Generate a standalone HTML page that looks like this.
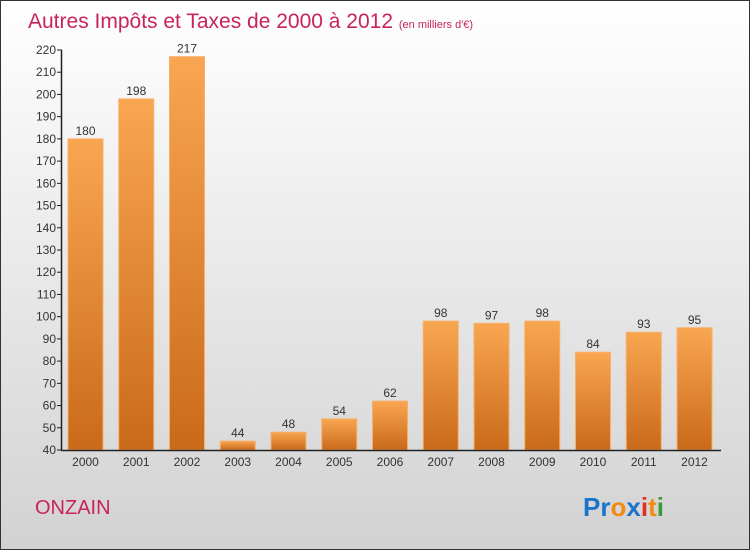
<!DOCTYPE html>
<html><head><meta charset="utf-8"><style>
body{margin:0}
svg{display:block;font-family:"Liberation Sans",sans-serif}
</style></head><body>
<svg id="c" width="750" height="550" xmlns="http://www.w3.org/2000/svg">
<defs>
<linearGradient id="bg" x1="0" y1="0" x2="0" y2="1"><stop offset="0" stop-color="#ffffff"/><stop offset="1" stop-color="#d2d2d2"/></linearGradient>
<linearGradient id="bar" x1="0" y1="0" x2="0" y2="1"><stop offset="0" stop-color="#f9a651"/><stop offset="1" stop-color="#c96a1a"/></linearGradient>
</defs>
<rect x="0.5" y="0.5" width="749" height="549" fill="url(#bg)" stroke="#333"/>
<text x="28" y="28" font-size="21" fill="#c8245a">Autres Impôts et Taxes de 2000 à 2012 <tspan font-size="11">(en milliers d'€)</tspan></text>
<g id="plot"></g>
<text x="35" y="514" font-size="20" fill="#c8245a">ONZAIN</text>
<text x="583" y="516" font-size="26" font-weight="bold"><tspan fill="#1a74c9">Pr</tspan><tspan fill="#f08a10">o</tspan><tspan fill="#1a74c9">x</tspan><tspan fill="#e03020">i</tspan><tspan fill="#f08a10">t</tspan><tspan fill="#3a9a3a">i</tspan></text>
</svg>
<script>
const categories=["2000","2001","2002","2003","2004","2005","2006","2007","2008","2009","2010","2011","2012"];
const values=[180,198,217,44,48,54,62,98,97,98,84,93,95];
const yTicks=[40,50,60,70,80,90,100,110,120,130,140,150,160,170,180,190,200,210,220];
const NS="http://www.w3.org/2000/svg";
const g=document.getElementById("plot");
const y0=450,yMin=40,yMax=220,yTop=50;
function y(v){return y0-(v-yMin)*(y0-yTop)/(yMax-yMin);}
function x(i){return 68+i*50.75;}
const bw=35;
function mk(t,a,txt){const e=document.createElementNS(NS,t);for(const k in a)e.setAttribute(k,a[k]);if(txt!==undefined)e.textContent=txt;g.appendChild(e);return e;}
yTicks.forEach(v=>{
 const l=mk("line",{x1:57,x2:62,y1:y(v),y2:y(v),stroke:"#222"});
 
 
 const t=mk("text",{x:56,y:y(v)+4,"font-size":12,fill:"#333","text-anchor":"end"},v);
 
 
});
values.forEach((v,i)=>{
 const r=mk("rect",{x:x(i),y:y(v),width:bw,height:y0-y(v),fill:"url(#bar)",stroke:"#f7b06a","stroke-width":1});
 
 
 const t=mk("text",{x:x(i)+bw/2,y:y(v)-4,"font-size":12,fill:"#333","text-anchor":"middle"},v);
 
 
 const c=mk("text",{x:x(i)+bw/2,y:466,"font-size":12,fill:"#333","text-anchor":"middle"},categories[i]);
 
 
});
const ya=mk("line",{x1:61.5,x2:61.5,y1:y(yMax),y2:y0+1,stroke:"#222","stroke-width":1.5});


const xa=mk("line",{x1:61,x2:721,y1:450.5,y2:450.5,stroke:"#222","stroke-width":1.5});


</script>
</body></html>
